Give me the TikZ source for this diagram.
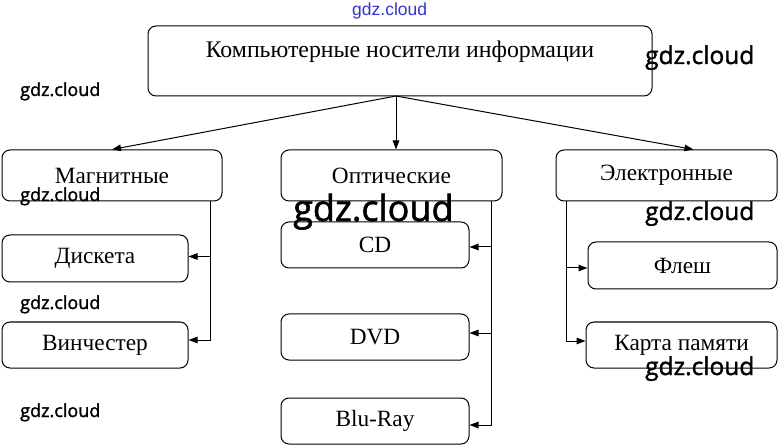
\documentclass[tikz,border=0pt]{standalone}
\usepackage{fontspec}
\setmainfont{Liberation Serif}
\newfontfamily\wmfont[FakeBold=1.6]{Open Sans}
\newfontfamily\wmbluefont{Liberation Sans}
\usetikzlibrary{arrows.meta}
\definecolor{wmblue}{RGB}{50,50,210}
\begin{document}
\begin{tikzpicture}[x=1pt,y=-1pt,
  box/.style={draw,line width=1pt,rounded corners=8pt,inner sep=0pt,
    font=\fontsize{23.3}{26}\selectfont},
  conn/.style={line width=1pt},
  arr/.style={conn,-{Triangle[length=9pt,width=6.5pt]}},
  wm/.style={inner sep=0pt,anchor=base west,font=\wmfont\fontsize{#1}{#1}\selectfont}
]
\useasboundingbox (0,0) rectangle (779,446);

% top box
\node[box,minimum width=504pt,minimum height=70pt] (top) at (400,61) {};
\node[inner sep=0pt,anchor=base,font=\fontsize{23.8}{26}\selectfont] (toptext) at (400,58) {Компьютерные носители информации};

% second level
\node[box,minimum width=220pt,minimum height=51pt] (mag) at (112,175.5) {Магнитные};
\node[box,minimum width=221pt,minimum height=51pt] (opt) at (391.5,175.5) {Оптические};
\node[box,minimum width=221pt,minimum height=51pt] (el) at (666.5,175.5) {Электронные};

% third level
\node[box,minimum width=186pt,minimum height=47pt] (dsk) at (95,258.5) {Дискета};
\node[box,minimum width=186pt,minimum height=46pt] (win) at (95,345) {Винчестер};
\node[box,minimum width=188pt,minimum height=46pt] (cd) at (375,245) {CD};
\node[box,minimum width=188pt,minimum height=46pt] (dvd) at (375,337) {DVD};
\node[box,minimum width=188pt,minimum height=46pt] (blu) at (375,421) {Blu-Ray};
\node[box,minimum width=189pt,minimum height=47pt] (fl) at (682.5,265.5) {Флеш};
\node[box,minimum width=191pt,minimum height=46pt] (kp) at (681.5,345) {Карта памяти};

% connectors from top
\coordinate (o) at (396,96);
\draw[arr] (o) -- (mag.north);
\draw[arr] (o) -- (o |- opt.north);
\draw[arr] (o) -- ([xshift=27pt]el.north);

% magnetic
\coordinate (mb) at ([xshift=-12pt]mag.south east);
\draw[arr] (mb) |- ([yshift=2pt]dsk.east);
\draw[arr] (mb) |- ([yshift=5pt]win.east);

% optical
\coordinate (ob) at ([xshift=-11pt]opt.south east);
\draw[arr] (ob) |- ([yshift=-2pt]cd.east);
\draw[arr] (ob) |- ([yshift=4pt]dvd.east);
\draw[arr] (ob) |- ([yshift=-4pt]blu.east);

% electronic
\coordinate (eb) at ([xshift=11pt]el.south west);
\draw[arr] (eb) |- ([yshift=-2.5pt]fl.west);
\draw[arr] (eb) |- ([yshift=4pt]kp.west);

% watermarks
\node[inner sep=0pt,anchor=base west,text=wmblue,font=\wmbluefont\fontsize{17.5}{17.5}\selectfont] (wm0) at (352,16) {gdz.cloud};
\node[wm=24.5] (wm1) at (645,64) {gdz.cloud};
\node[wm=18] (wm2) at (20,96) {gdz.cloud};
\node[wm=18] (wm3) at (20,201) {gdz.cloud};
\node[wm=36] (wm4) at (293,221) {gdz.cloud};
\node[wm=24.5] (wm5) at (645,220) {gdz.cloud};
\node[wm=18] (wm6) at (20,309) {gdz.cloud};
\node[wm=24.5] (wm7) at (645,375) {gdz.cloud};
\node[wm=18] (wm8) at (20,417) {gdz.cloud};
\end{tikzpicture}
\end{document}
